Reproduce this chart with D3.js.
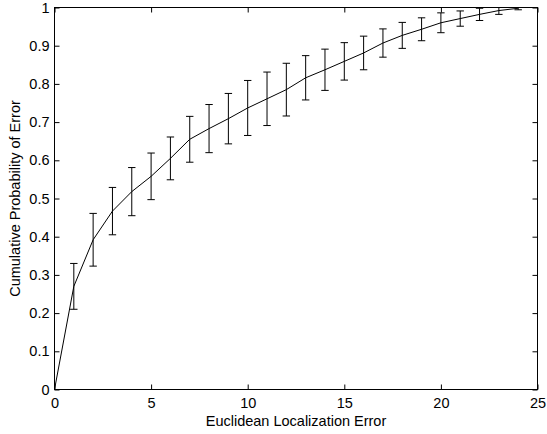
<!DOCTYPE html>
<meta charset="utf-8">
<style>
body { margin: 0; background: #fff; }
svg { display: block; }
text { font-family: "Liberation Sans", Arial, sans-serif; fill: #000; }
.axis text { font-size: 14.5px; }
.axis path { display: none; }
.axis line { stroke: #000; }
</style>
<svg width="547" height="434"></svg>
<script src="https://cdnjs.cloudflare.com/ajax/libs/d3/7.8.5/d3.min.js"></script>
<script>

// data
var errX = [0, 1, 2, 3, 4, 5, 6, 7, 8, 9, 10, 11, 12, 13, 14, 15, 16, 17, 18, 19, 20, 21, 22, 23, 24];
var meanP = [0, 0.270, 0.392, 0.467, 0.518, 0.558, 0.605, 0.655, 0.683, 0.709, 0.737, 0.761, 0.785,
             0.816, 0.837, 0.859, 0.881, 0.907, 0.927, 0.943, 0.960, 0.971, 0.982, 0.992, 0.998];
var stdP = [0, 0.060, 0.069, 0.062, 0.063, 0.061, 0.056, 0.060, 0.063, 0.066, 0.072, 0.070, 0.069,
            0.058, 0.054, 0.049, 0.044, 0.037, 0.034, 0.030, 0.026, 0.020, 0.016, 0.010, 0.004];
var xTicks = [0, 5, 10, 15, 20, 25];
var yTicks = [0, 0.1, 0.2, 0.3, 0.4, 0.5, 0.6, 0.7, 0.8, 0.9, 1];

var svg = d3.select("svg");
var pL = 54.5, pR = 537.5, pT = 7.5, pB = 389.5;

var x = d3.scaleLinear().domain([0, 25]).range([pL, pR]);
var y = d3.scaleLinear().domain([0, 1]).range([pB, pT]);

var pts = errX.map(function(v, i) { return {x: v, m: meanP[i], s: stdP[i]}; });

svg.append("clipPath").attr("id", "clip")
  .append("rect").attr("x", pL).attr("y", pT)
  .attr("width", pR - pL).attr("height", pB - pT);

// axes, ticks pointing inward like matlab
svg.append("g").attr("class", "axis")
    .attr("transform", "translate(0," + pB + ")")
    .call(d3.axisBottom(x).tickValues(xTicks).tickSizeInner(-5).tickSizeOuter(0).tickPadding(8.5).tickFormat(d3.format("")));
svg.append("g").attr("class", "axis")
    .attr("transform", "translate(" + pL + ",0)")
    .call(d3.axisLeft(y).tickValues(yTicks).tickSizeInner(-5).tickSizeOuter(0).tickPadding(5).tickFormat(d3.format("")));
svg.append("g").attr("class", "axis")
    .attr("transform", "translate(0," + pT + ")")
    .call(d3.axisTop(x).tickValues(xTicks).tickSizeInner(-5).tickSizeOuter(0).tickFormat(""));
svg.append("g").attr("class", "axis")
    .attr("transform", "translate(" + pR + ",0)")
    .call(d3.axisRight(y).tickValues(yTicks).tickSizeInner(-5).tickSizeOuter(0).tickFormat(""));

svg.append("rect")
    .attr("x", pL).attr("y", pT)
    .attr("width", pR - pL).attr("height", pB - pT)
    .attr("fill", "none").attr("stroke", "#000").attr("stroke-width", 1);

var plot = svg.append("g").attr("clip-path", "url(#clip)");

// error bars
var bars = plot.selectAll(".eb")
    .data(pts.filter(function(d) { return d.s > 0; }))
    .enter().append("g").attr("class", "eb")
    .attr("stroke", "#000").attr("stroke-width", 1).attr("fill", "none");

bars.append("line")
    .attr("x1", function(d) { return x(d.x); })
    .attr("x2", function(d) { return x(d.x); })
    .attr("y1", function(d) { return y(d.m - d.s); })
    .attr("y2", function(d) { return y(d.m + d.s); });
bars.append("line")
    .attr("x1", function(d) { return x(d.x) - 3.7; })
    .attr("x2", function(d) { return x(d.x) + 3.7; })
    .attr("y1", function(d) { return y(d.m + d.s); })
    .attr("y2", function(d) { return y(d.m + d.s); });
bars.append("line")
    .attr("x1", function(d) { return x(d.x) - 3.7; })
    .attr("x2", function(d) { return x(d.x) + 3.7; })
    .attr("y1", function(d) { return y(d.m - d.s); })
    .attr("y2", function(d) { return y(d.m - d.s); });

// mean curve
plot.append("path")
    .datum(pts)
    .attr("fill", "none")
    .attr("stroke", "#000")
    .attr("stroke-width", 1)
    .attr("d", d3.line().x(function(d) { return x(d.x); }).y(function(d) { return y(d.m); }));

// axis titles
svg.append("text")
    .attr("x", (pL + pR) / 2).attr("y", 425.5)
    .attr("text-anchor", "middle").style("font-size", "14.5px")
    .text("Euclidean Localization Error");
svg.append("text")
    .attr("transform", "translate(19.5," + (pT + pB) / 2 + ") rotate(-90)")
    .attr("text-anchor", "middle").style("font-size", "14.5px")
    .text("Cumulative Probability of Error");

</script>
